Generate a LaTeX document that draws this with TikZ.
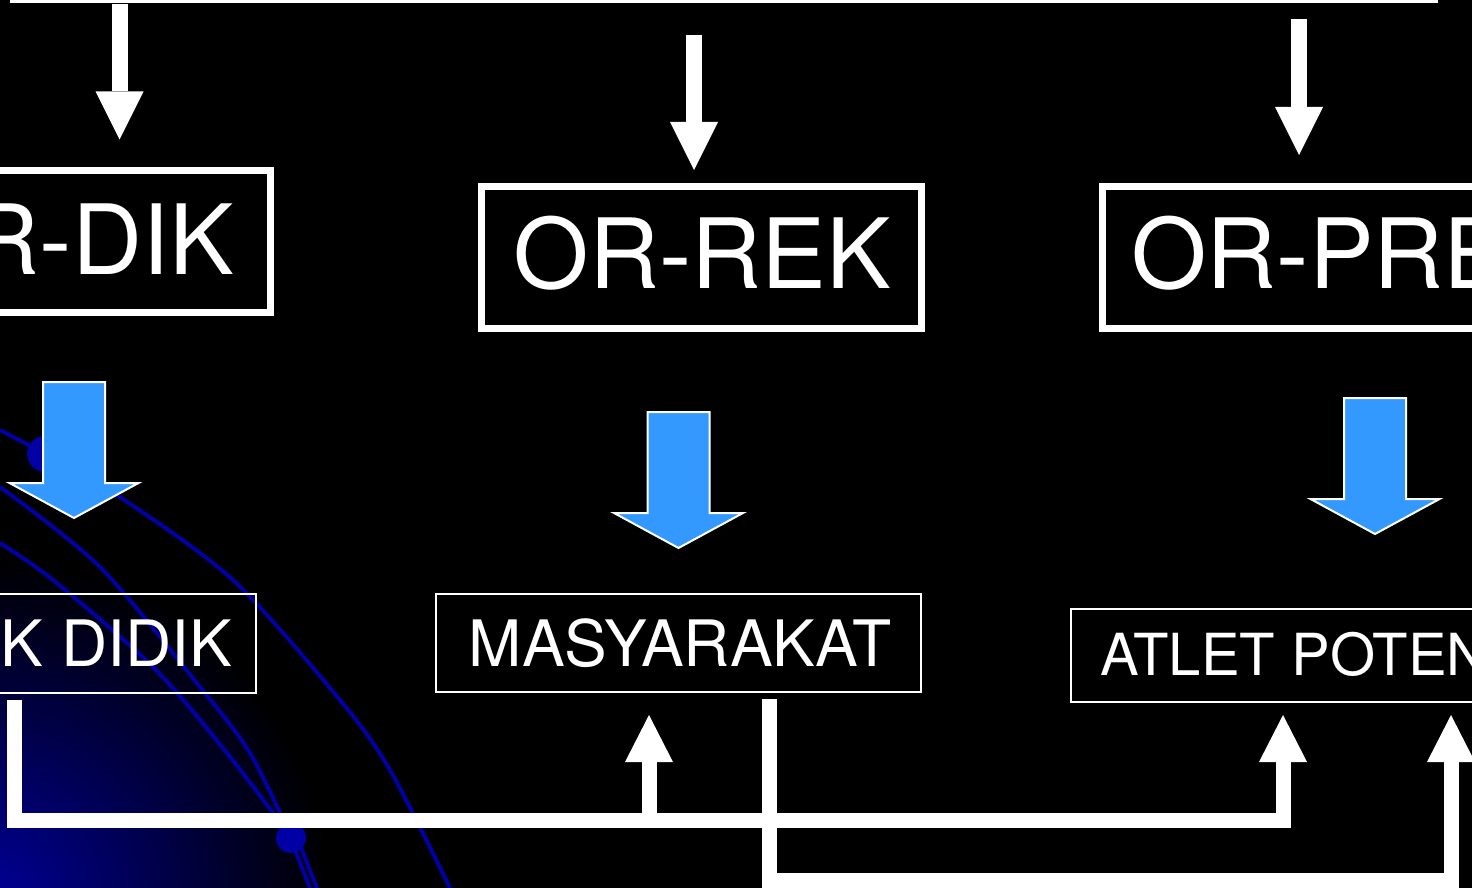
\documentclass[tikz,border=0pt]{standalone}
\usepackage{fontspec}
\setmainfont{TeX Gyre Heros}
\usepackage{xcolor}
\usepackage{tikz}
\usetikzlibrary{arrows.meta,calc,positioning}

\definecolor{arrowblue}{RGB}{51,153,255}
\definecolor{decoblue}{RGB}{0,0,165}
\definecolor{shadeblue}{RGB}{0,0,150}

\pgfdeclareradialshading{cornerglow}{\pgfpoint{0bp}{0bp}}{color(0bp)=(shadeblue); color(17bp)=(black); color(50bp)=(black)}

\tikzset{
  bigbox/.style={draw=white, line width=7pt, minimum width=440pt, minimum height=142pt, inner sep=0pt},
  smallbox/.style={draw=white, line width=2pt, minimum width=485pt, inner sep=0pt},
  bigtxt/.style={text=white, inner sep=0pt, font=\fontsize{97}{100}\selectfont},
  smalltxt/.style={text=white, inner sep=0pt, font=\fontsize{64}{70}\selectfont},
  downarr/.style={draw=white, line width=16pt, -{Triangle[width=48pt,length=48pt,line width=0pt]}},
  conn/.style={draw=white, line width=15pt, line join=miter, -{Triangle[width=48pt,length=47pt,line width=0pt]}},
  deco/.style={draw=decoblue, line width=4pt},
  pics/bluearrow/.style={code={
    \draw[fill=arrowblue, draw=white, line width=2pt]
      (-31,0) -- (31,0) -- (31,101) -- (64.5,101) -- (0,136) -- (-64.5,101) -- (-31,101) -- cycle;
  }}
}

\begin{document}
\begin{tikzpicture}[x=1pt,y=-1pt]
    \useasboundingbox (0,0) rectangle (1472,888);
    \fill[black] (0,0) rectangle (1472,888);

    % background
    \begin{scope}
      \clip (0,0) rectangle (1472,888);
      \shade[shading=cornerglow] (-10,898) circle (500);
      \draw[deco] plot[smooth] coordinates {(0,430) (45,454) (117,495) (233,580) (340,700) (390,770) (450,888)};
      \draw[deco] plot[smooth] coordinates {(0,487) (100,567) (200,687) (250,753) (291,837)};
      \draw[deco] plot[smooth] coordinates {(0,543) (53,580) (153,667) (227,753) (291,837)};
      \draw[deco] (293,845) -- (310,888);
      \draw[deco] (300,845) -- (317,888);
      \fill[decoblue] (45,454) circle (18);
      \fill[decoblue] (291,838) circle (15);
    \end{scope}

    \draw[white, line width=2.7pt] (10,1.35) -- (1438,1.35);

    % boxes
    \node[bigbox] (dik) at (50.5,241) {};
    \node[bigbox] (rek) at (701.5,257) {};
    \node[bigbox] (pre) at (1322,257) {};
    \node[bigtxt, anchor=base east] (diktext) at (234,274) {R-DIK};
    \node[bigtxt, anchor=base] (rektext) at (702.5,288) {OR-REK};
    \node[bigtxt, anchor=base west] (pretext) at (1131,288) {OR-PRE};

    \node[smallbox, minimum height=99pt] (didik) at (13.5,643) {};
    \node[smallbox, minimum height=98pt] (masy) at (678.5,643) {};
    \node[smallbox, minimum height=93pt] (atlet) at (1313.5,655.5) {};
    \node[smalltxt, anchor=base east] (didiktext) at (232,666) {K DIDIK};
    \node[smalltxt, anchor=base] (masytext) at (680,666) {MASYARAKAT};
    \node[smalltxt, font=\fontsize{58}{64}\selectfont, anchor=base west] (atlettext) at (1100,675) {ATLET POTEN};

    % top arrows
    \coordinate (t1) at (119.5,4);
    \coordinate (t2) at (694,35);
    \coordinate (t3) at (1299,19);
    \draw[downarr, shorten >=27pt] (t1) -- (t1 |- dik.north);
    \draw[downarr, shorten >=12.5pt] (t2) -- (t2 |- rek.north);
    \draw[downarr, shorten >=27.5pt] (t3) -- (t3 |- pre.north);

    % block arrows
    \pic at (74,382) {bluearrow};
    \pic at (678.5,412) {bluearrow};
    \pic at (1375,398) {bluearrow};

    % bottom lines
    \coordinate (j1) at (14,820.5);
    \coordinate (j2) at (1283,820.5);
    \coordinate (j3) at (649,820.5);
    \coordinate (j4) at (769.5,880);
    \coordinate (j5) at (1451,880);
    \draw[conn, shorten <=6pt, shorten >=12pt] (j1 |- didik.south) -- (j1) -- (j2) -- (j2 |- atlet.south);
    \draw[conn, shorten >=22pt] (j3) -- (j3 |- masy.south);
    \draw[conn, shorten <=6pt, shorten >=12pt] (j4 |- masy.south) -- (j4) -- (j5) -- (j5 |- atlet.south);
\end{tikzpicture}
\end{document}
